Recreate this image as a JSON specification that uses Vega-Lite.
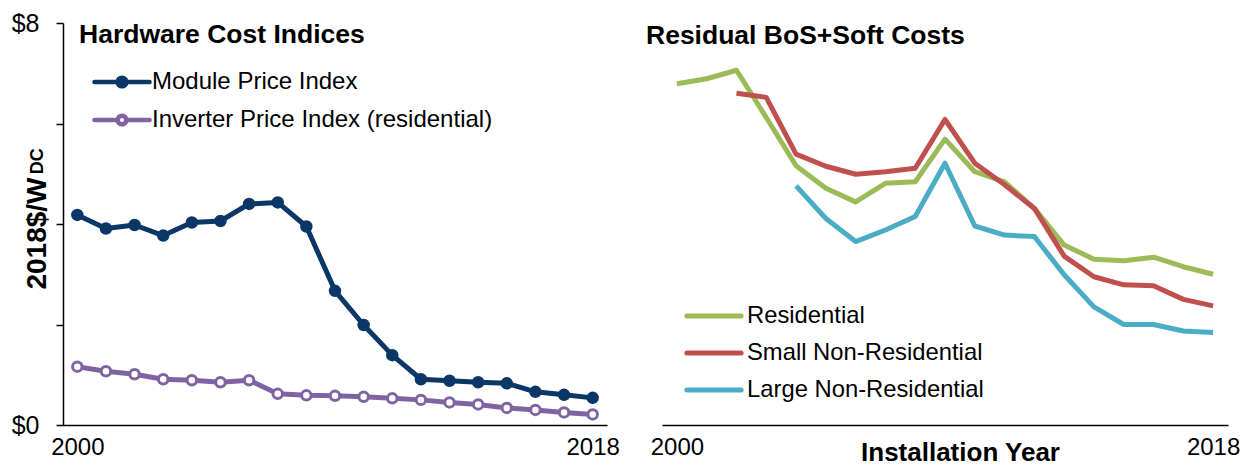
{
  "$schema": "https://vega.github.io/schema/vega-lite/v6.json",
  "padding": {"left": 11, "top": 11, "right": 5, "bottom": 0},
  "background": "white",
  "config": {"font": "Liberation Sans", "view": {"stroke": null}},
  "spacing": 55,
  "bounds": "flush",
  "resolve": {"scale": {"color": "independent", "x": "independent", "y": "independent"}, "legend": {"color": "independent"}},
  "datasets": {
    "hw": [
      {"series": "Module Price Index", "year": 2000, "value": 4.18},
      {"series": "Module Price Index", "year": 2001, "value": 3.91},
      {"series": "Module Price Index", "year": 2002, "value": 3.98},
      {"series": "Module Price Index", "year": 2003, "value": 3.77},
      {"series": "Module Price Index", "year": 2004, "value": 4.03},
      {"series": "Module Price Index", "year": 2005, "value": 4.06},
      {"series": "Module Price Index", "year": 2006, "value": 4.40},
      {"series": "Module Price Index", "year": 2007, "value": 4.43},
      {"series": "Module Price Index", "year": 2008, "value": 3.95},
      {"series": "Module Price Index", "year": 2009, "value": 2.67},
      {"series": "Module Price Index", "year": 2010, "value": 1.99},
      {"series": "Module Price Index", "year": 2011, "value": 1.39},
      {"series": "Module Price Index", "year": 2012, "value": 0.91},
      {"series": "Module Price Index", "year": 2013, "value": 0.88},
      {"series": "Module Price Index", "year": 2014, "value": 0.85},
      {"series": "Module Price Index", "year": 2015, "value": 0.83},
      {"series": "Module Price Index", "year": 2016, "value": 0.66},
      {"series": "Module Price Index", "year": 2017, "value": 0.60},
      {"series": "Module Price Index", "year": 2018, "value": 0.54},
      {"series": "Inverter Price Index (residential)", "year": 2000, "value": 1.16},
      {"series": "Inverter Price Index (residential)", "year": 2001, "value": 1.07},
      {"series": "Inverter Price Index (residential)", "year": 2002, "value": 1.01},
      {"series": "Inverter Price Index (residential)", "year": 2003, "value": 0.91},
      {"series": "Inverter Price Index (residential)", "year": 2004, "value": 0.89},
      {"series": "Inverter Price Index (residential)", "year": 2005, "value": 0.85},
      {"series": "Inverter Price Index (residential)", "year": 2006, "value": 0.89},
      {"series": "Inverter Price Index (residential)", "year": 2007, "value": 0.62},
      {"series": "Inverter Price Index (residential)", "year": 2008, "value": 0.59},
      {"series": "Inverter Price Index (residential)", "year": 2009, "value": 0.58},
      {"series": "Inverter Price Index (residential)", "year": 2010, "value": 0.56},
      {"series": "Inverter Price Index (residential)", "year": 2011, "value": 0.53},
      {"series": "Inverter Price Index (residential)", "year": 2012, "value": 0.50},
      {"series": "Inverter Price Index (residential)", "year": 2013, "value": 0.45},
      {"series": "Inverter Price Index (residential)", "year": 2014, "value": 0.41},
      {"series": "Inverter Price Index (residential)", "year": 2015, "value": 0.34},
      {"series": "Inverter Price Index (residential)", "year": 2016, "value": 0.30},
      {"series": "Inverter Price Index (residential)", "year": 2017, "value": 0.25},
      {"series": "Inverter Price Index (residential)", "year": 2018, "value": 0.21}
    ],
    "bos": [
      {"series": "Residential", "year": 2000, "value": 6.79},
      {"series": "Residential", "year": 2001, "value": 6.89},
      {"series": "Residential", "year": 2002, "value": 7.06},
      {"series": "Residential", "year": 2003, "value": 6.12},
      {"series": "Residential", "year": 2004, "value": 5.16},
      {"series": "Residential", "year": 2005, "value": 4.71},
      {"series": "Residential", "year": 2006, "value": 4.44},
      {"series": "Residential", "year": 2007, "value": 4.81},
      {"series": "Residential", "year": 2008, "value": 4.84},
      {"series": "Residential", "year": 2009, "value": 5.69},
      {"series": "Residential", "year": 2010, "value": 5.04},
      {"series": "Residential", "year": 2011, "value": 4.84},
      {"series": "Residential", "year": 2012, "value": 4.31},
      {"series": "Residential", "year": 2013, "value": 3.58},
      {"series": "Residential", "year": 2014, "value": 3.30},
      {"series": "Residential", "year": 2015, "value": 3.27},
      {"series": "Residential", "year": 2016, "value": 3.34},
      {"series": "Residential", "year": 2017, "value": 3.15},
      {"series": "Residential", "year": 2018, "value": 3.00},
      {"series": "Small Non-Residential", "year": 2002, "value": 6.60},
      {"series": "Small Non-Residential", "year": 2003, "value": 6.52},
      {"series": "Small Non-Residential", "year": 2004, "value": 5.39},
      {"series": "Small Non-Residential", "year": 2005, "value": 5.15},
      {"series": "Small Non-Residential", "year": 2006, "value": 4.99},
      {"series": "Small Non-Residential", "year": 2007, "value": 5.04},
      {"series": "Small Non-Residential", "year": 2008, "value": 5.11},
      {"series": "Small Non-Residential", "year": 2009, "value": 6.08},
      {"series": "Small Non-Residential", "year": 2010, "value": 5.21},
      {"series": "Small Non-Residential", "year": 2011, "value": 4.78},
      {"series": "Small Non-Residential", "year": 2012, "value": 4.31},
      {"series": "Small Non-Residential", "year": 2013, "value": 3.36},
      {"series": "Small Non-Residential", "year": 2014, "value": 2.95},
      {"series": "Small Non-Residential", "year": 2015, "value": 2.79},
      {"series": "Small Non-Residential", "year": 2016, "value": 2.77},
      {"series": "Small Non-Residential", "year": 2017, "value": 2.50},
      {"series": "Small Non-Residential", "year": 2018, "value": 2.37},
      {"series": "Large Non-Residential", "year": 2004, "value": 4.76},
      {"series": "Large Non-Residential", "year": 2005, "value": 4.11},
      {"series": "Large Non-Residential", "year": 2006, "value": 3.65},
      {"series": "Large Non-Residential", "year": 2007, "value": 3.88},
      {"series": "Large Non-Residential", "year": 2008, "value": 4.15},
      {"series": "Large Non-Residential", "year": 2009, "value": 5.21},
      {"series": "Large Non-Residential", "year": 2010, "value": 3.96},
      {"series": "Large Non-Residential", "year": 2011, "value": 3.78},
      {"series": "Large Non-Residential", "year": 2012, "value": 3.75},
      {"series": "Large Non-Residential", "year": 2013, "value": 2.99},
      {"series": "Large Non-Residential", "year": 2014, "value": 2.35},
      {"series": "Large Non-Residential", "year": 2015, "value": 2.00},
      {"series": "Large Non-Residential", "year": 2016, "value": 2.00},
      {"series": "Large Non-Residential", "year": 2017, "value": 1.87},
      {"series": "Large Non-Residential", "year": 2018, "value": 1.84}
    ],
    "sub": [{"sub": "DC"}]
  },
  "hconcat": [
    {
      "width": 544,
      "height": 402,
      "title": {"text": "Hardware Cost Indices", "anchor": "start", "frame": "group", "fontSize": 26.5, "fontWeight": "bold", "font": "Liberation Sans", "color": "black", "offset": -37, "dx": 16},
      "layer": [
        {
          "data": {"name": "hw"},
          "encoding": {
            "x": {"field": "year", "type": "quantitative", "scale": {"domain": [1999.5, 2018.5], "nice": false, "zero": false},
              "axis": {"values": [2000, 2018], "format": "d", "ticks": false, "grid": false, "domainColor": "black", "domainWidth": 1.5, "labelFontSize": 24, "labelColor": "black", "labelPadding": 10, "labelFlush": false, "title": null}},
            "y": {"field": "value", "type": "quantitative", "scale": {"domain": [0, 8], "nice": false},
              "axis": {"values": [0, 2, 4, 6, 8], "labelExpr": "datum.value == 0 || datum.value == 8 ? '$' + datum.value : ''", "grid": false, "domainColor": "black", "domainWidth": 1.5, "tickColor": "black", "tickWidth": 1.5, "tickSize": 7, "labelFontSize": 25, "labelColor": "black", "labelPadding": 17, "labelFlush": false, "title": "2018$/W", "titleFontSize": 28, "titleFontWeight": "bold", "titleColor": "black", "titleX": -12, "titleY": 210}},
            "color": {"field": "series", "type": "nominal", "sort": null,
              "scale": {"domain": ["Module Price Index", "Inverter Price Index (residential)"], "range": ["#0a3766", "#8064a2"]},
              "legend": {"orient": "none", "legendX": 35, "legendY": 35, "title": null, "padding": 0,
                "symbolType": "M-1.28,0H-0.25M0.25,0H1.28M-0.2,0A0.2,0.2,0,1,0,0.2,0A0.2,0.2,0,1,0,-0.2,0",
                "symbolSize": 1850, "symbolStrokeWidth": 4.5, "symbolOpacity": 1,
                "labelFont": "Liberation Sans", "labelFontSize": 24, "labelColor": "black", "labelLimit": 0, "labelOffset": 6, "rowPadding": 0,
                "encode": {"symbols": {"update": {"fill": {"signal": "datum.value === 'Module Price Index' ? '#0a3766' : '#ffffff'"}, "strokeCap": {"value": "round"}}}}}}
          },
          "layer": [
            {"mark": {"type": "line", "strokeWidth": 5, "strokeJoin": "round", "strokeCap": "round"}},
            {"mark": {"type": "point", "filled": false, "size": 90, "strokeWidth": 3, "opacity": 1},
              "encoding": {"fill": {"field": "series", "type": "nominal", "scale": {"domain": ["Module Price Index", "Inverter Price Index (residential)"], "range": ["#0a3766", "#ffffff"]}, "legend": null}}}
          ]
        },
        {
          "data": {"name": "sub"},
          "mark": {"type": "text", "angle": 270, "fontSize": 18, "fontWeight": "bold", "font": "Liberation Sans", "color": "black", "dy": -25, "align": "center", "baseline": "middle"},
          "encoding": {
            "x": {"datum": 1999.5, "type": "quantitative"},
            "y": {"datum": 5.25, "type": "quantitative"},
            "text": {"field": "sub", "type": "nominal"}
          }
        }
      ]
    },
    {
      "width": 566,
      "height": 402,
      "title": {"text": "Residual BoS+Soft Costs", "anchor": "start", "frame": "group", "fontSize": 26.5, "fontWeight": "bold", "font": "Liberation Sans", "color": "black", "offset": -26, "dx": -16},
      "data": {"name": "bos"},
      "mark": {"type": "line", "strokeWidth": 5, "strokeJoin": "round"},
      "encoding": {
        "x": {"field": "year", "type": "quantitative", "scale": {"domain": [1999.5, 2018.5], "nice": false, "zero": false},
          "axis": {"values": [2000, 2018], "format": "d", "ticks": false, "grid": false, "domainColor": "black", "domainWidth": 1.5, "labelFontSize": 24, "labelColor": "black", "labelPadding": 10, "labelFlush": false,
            "title": "Installation Year", "titleFontSize": 26, "titleFontWeight": "bold", "titleColor": "black", "titleX": 298, "titleY": 14}},
        "y": {"field": "value", "type": "quantitative", "scale": {"domain": [0, 8], "nice": false}, "axis": null},
        "color": {"field": "series", "type": "nominal", "sort": null,
          "scale": {"domain": ["Residential", "Small Non-Residential", "Large Non-Residential"], "range": ["#9bbb59", "#c0504d", "#4bacc6"]},
          "legend": {"orient": "none", "legendX": 27.5, "legendY": 268.5, "title": null, "padding": 0,
            "symbolType": "M-1.26,0H1.26", "symbolSize": 1850, "symbolStrokeWidth": 5,
            "labelFont": "Liberation Sans", "labelFontSize": 23.8, "labelColor": "black", "labelLimit": 0, "labelOffset": 8.5, "rowPadding": 0,
            "encode": {"symbols": {"update": {"strokeCap": {"value": "round"}, "fill": {"value": "transparent"}}}}}}
      }
    }
  ]
}
